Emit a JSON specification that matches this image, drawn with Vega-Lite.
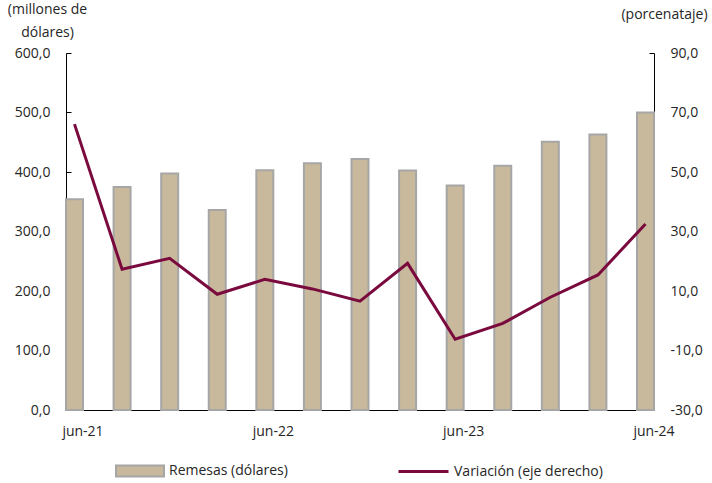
{
  "$schema": "https://vega.github.io/schema/vega-lite/v6.json",
  "width": 588,
  "height": 357,
  "autosize": {"type": "none"},
  "padding": {"left": 66, "top": 53, "right": 58, "bottom": 73},
  "background": "white",
  "config": {
    "view": {"stroke": null},
    "font": "Open Sans",
    "axis": {"labelFont": "Open Sans", "labelFontSize": 14, "labelColor": "#262626", "titleFont": "Open Sans", "titleFontSize": 14, "titleColor": "#262626", "titleFontWeight": "normal", "domainColor": "#000000", "tickColor": "#000000", "grid": false},
    "legend": {"labelFont": "Open Sans", "labelFontSize": 14, "labelColor": "#262626"}
  },
  "data": {
    "values": [
      {"periodo": "jun-21", "remesas": 354, "variacion": 66.1},
      {"periodo": "sep-21", "remesas": 375, "variacion": 17.3},
      {"periodo": "dic-21", "remesas": 397.5, "variacion": 21.0},
      {"periodo": "mar-22", "remesas": 336, "variacion": 8.9},
      {"periodo": "jun-22", "remesas": 403, "variacion": 13.9},
      {"periodo": "sep-22", "remesas": 414.5, "variacion": 10.7},
      {"periodo": "dic-22", "remesas": 422, "variacion": 6.6},
      {"periodo": "mar-23", "remesas": 402.5, "variacion": 19.3},
      {"periodo": "jun-23", "remesas": 377.5, "variacion": -6.2},
      {"periodo": "sep-23", "remesas": 410.5, "variacion": -0.9},
      {"periodo": "dic-23", "remesas": 451, "variacion": 7.9},
      {"periodo": "mar-24", "remesas": 463, "variacion": 15.4},
      {"periodo": "jun-24", "remesas": 500, "variacion": 32.5}
    ]
  },
  "encoding": {
    "x": {
      "field": "periodo",
      "type": "ordinal",
      "sort": null,
      "scale": {"paddingInner": 0.643, "paddingOuter": 0},
      "axis": {
        "title": null,
        "values": ["jun-21", "jun-22", "jun-23", "jun-24"],
        "bandPosition": 0,
        "labelOffset": 8.5,
        "labelAngle": 0,
        "tickSize": -6,
        "labelPadding": 20,
        "labelAlign": "center"
      }
    }
  },
  "layer": [
    {
      "mark": {"type": "bar", "fill": "#C9B99C", "stroke": "#A6A6A6", "strokeWidth": 2},
      "encoding": {
        "y": {
          "field": "remesas",
          "type": "quantitative",
          "scale": {"domain": [0, 600], "nice": false, "zero": true},
          "axis": {
            "orient": "left",
            "values": [0, 100, 200, 300, 400, 500, 600],
            "labelExpr": "replace(format(datum.value, '.1f'), '.', ',')",
            "tickSize": -5,
            "labelPadding": 21,
            "title": ["(millones de", "dólares)"],
            "titleAngle": 0,
            "titleAlign": "center",
            "titleBaseline": "top",
            "titleX": -19,
            "titleY": -51,
            "titleLineHeight": 23
          }
        },
        "fill": {
          "datum": "Remesas (dólares)",
          "type": "nominal",
          "scale": {"range": ["#C9B99C"]},
          "legend": {
            "title": null,
            "orient": "none",
            "legendX": 49,
            "legendY": 393,
            "padding": 0,
            "symbolType": "M-1,-0.23H1V0.23H-1Z",
            "symbolSize": 2304,
            "symbolStrokeColor": "#A6A6A6",
            "symbolStrokeWidth": 2,
            "symbolOpacity": 1
          }
        }
      }
    },
    {
      "mark": {"type": "line", "strokeWidth": 3},
      "encoding": {
        "y": {
          "field": "variacion",
          "type": "quantitative",
          "scale": {"domain": [-30, 90], "nice": false, "zero": false},
          "axis": {
            "orient": "right",
            "values": [-30, -10, 10, 30, 50, 70, 90],
            "labelExpr": "datum.value + ',0'",
            "tickSize": -5,
            "labelPadding": 21,
            "title": "(porcenataje)",
            "titleAngle": 0,
            "titleAlign": "center",
            "titleBaseline": "top",
            "titleX": 10,
            "titleY": -46
          }
        },
        "stroke": {
          "datum": "Variación (eje derecho)",
          "type": "nominal",
          "scale": {"range": ["#7A0A3E"]},
          "legend": {
            "title": null,
            "orient": "none",
            "legendX": 331,
            "legendY": 392,
            "padding": 0,
            "symbolType": "stroke",
            "symbolSize": 2500,
            "symbolStrokeWidth": 3
          }
        }
      }
    }
  ],
  "resolve": {"scale": {"y": "independent", "fill": "independent", "stroke": "independent"}}
}
